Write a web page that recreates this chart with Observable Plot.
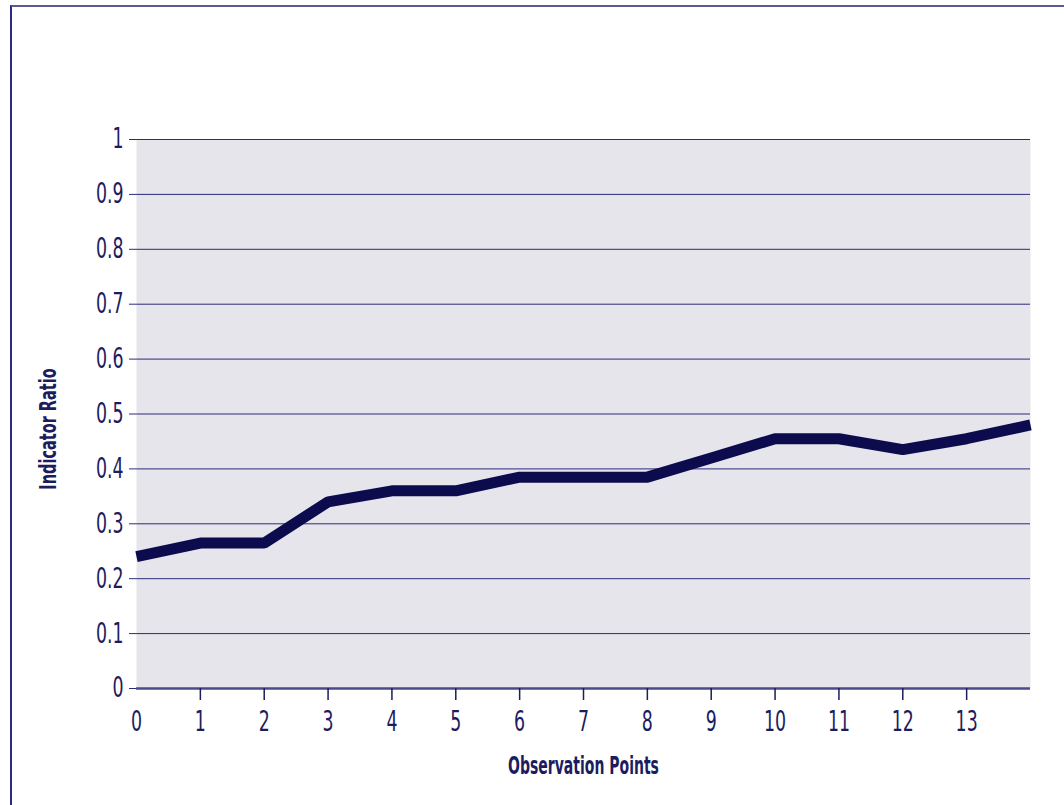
<!DOCTYPE html>
<html>
<head>
<meta charset="utf-8">
<script src="https://cdn.jsdelivr.net/npm/d3@7"></script>
<script src="https://cdn.jsdelivr.net/npm/@observablehq/plot@0.6"></script>
<style>
  html, body { margin: 0; padding: 0; background: #fff; overflow: hidden; }
  #wrap { position: relative; width: 1064px; height: 805px; }
  #border { position: absolute; left: 10px; top: 5px; width: 1100px; height: 900px;
            border-left: 2px solid #2a2a80; border-top: 2px solid #5a5a90; }
  #chart { position: absolute; left: 0; top: 0; }
</style>
</head>
<body>
<div id="wrap"><div id="border"></div><div id="chart"></div></div>
<script>
const observationPoints = [0, 1, 2, 3, 4, 5, 6, 7, 8, 9, 10, 11, 12, 13, 14];
const indicatorRatio = [0.24, 0.265, 0.265, 0.34, 0.36, 0.36, 0.385, 0.385, 0.385, 0.42, 0.455, 0.455, 0.435, 0.455, 0.48];
const xTickLabels = [0, 1, 2, 3, 4, 5, 6, 7, 8, 9, 10, 11, 12, 13];
const yTickValues = [0, 0.1, 0.2, 0.3, 0.4, 0.5, 0.6, 0.7, 0.8, 0.9, 1];
const xTitle = "Observation Points";
const yTitle = "Indicator Ratio";

const data = observationPoints.map((x, i) => ({x, y: indicatorRatio[i]}));
const navy = "#1c1c5e";
const font = "'DejaVu Sans', sans-serif";

const chart = Plot.plot({
  width: 1064,
  height: 805,
  marginLeft: 136,
  marginRight: 34,
  marginTop: 139,
  marginBottom: 117,
  style: {fontFamily: font, color: navy, background: "transparent", overflow: "visible"},
  x: {domain: [0, 14]},
  y: {domain: [0, 1]},
  marks: [
    Plot.frame({fill: "#e6e5ec", stroke: null}),
    Plot.gridY(yTickValues.slice(1), {stroke: "#2b2b78", strokeOpacity: 1, strokeWidth: 1}),
    Plot.axisY({ticks: yTickValues, tickSize: 7, tickPadding: 6, tickFormat: d => d3.format("")(+d.toFixed(1)),
      fontSize: 28, stroke: "#2b2b78", strokeOpacity: 1, fill: navy, label: null}),
    Plot.ruleY([0], {stroke: "#4b4b8a", strokeWidth: 2.5}),
    Plot.axisX({ticks: xTickLabels.slice(1), tickSize: 12, tickFormat: () => "", stroke: navy, strokeWidth: 1.5, label: null}),
    Plot.axisX({ticks: xTickLabels, tickSize: 0, tickPadding: 23, fontSize: 28, fill: navy, label: null}),
    Plot.line(data, {x: "x", y: "y", stroke: "#0b0b4d", strokeWidth: 11, strokeLinejoin: "miter", strokeLinecap: "butt"}),
    Plot.text([xTitle], {frameAnchor: "bottom", dy: 77, text: d => d, fontSize: 25, fontWeight: "bold", fill: navy, lineAnchor: "middle"}),
    Plot.text([yTitle], {frameAnchor: "left", dx: -88, dy: 15, rotate: -90, textAnchor: "middle", lineAnchor: "middle", text: d => d, fontSize: 23, fontWeight: "bold", fill: navy})
  ]
});
document.getElementById("chart").appendChild(chart);

// condense text horizontally (reference uses a narrow typeface)
d3.select(chart).selectAll("text").each(function () {
  const txt = this.textContent;
  if (!txt) return;
  const s = txt === xTitle ? 0.56 : txt === yTitle ? 0.63 : 0.62;
  const len = this.getComputedTextLength();
  if (len > 0) {
    this.setAttribute("textLength", (len * s).toFixed(2));
    this.setAttribute("lengthAdjust", "spacingAndGlyphs");
  }
});
</script>
</body>
</html>
